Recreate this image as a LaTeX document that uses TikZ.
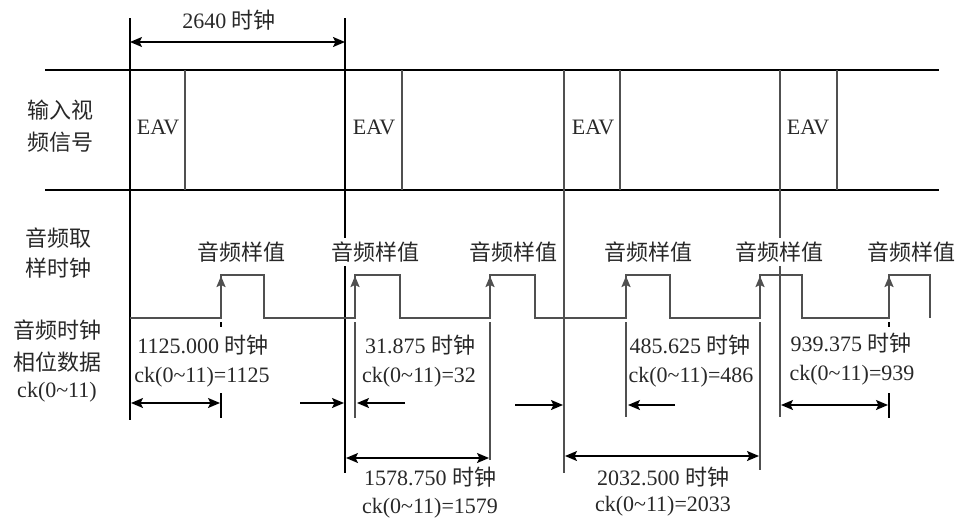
\documentclass[tikz,border=0pt]{standalone}
\usepackage{fontspec}
\setmainfont{Liberation Serif}
\newfontfamily\latinfont{Liberation Serif}
\newfontfamily\cjk{Noto Sans CJK SC}
\newcommand{\zh}[1]{{\cjk #1}}
\usetikzlibrary{arrows.meta}
\definecolor{wavecol}{RGB}{80,80,80}
\definecolor{txt}{RGB}{40,40,40}
\begin{document}
\begin{tikzpicture}[x=1pt,y=-1pt,
  lbl/.style={font={\latinfont\fontsize{22}{26}\selectfont}, inner sep=0pt, text=txt},
  zhlbl/.style={font={\cjk\fontsize{22}{26}\selectfont}, inner sep=0pt, text=txt},
  sample/.style={zhlbl, fill=white, inner sep=4pt},
  frame/.style={line width=1.5pt, black},
  wave/.style={line width=2pt, wavecol},
  tip/.style={line width=2pt, wavecol, -{Stealth[length=11pt,width=9pt,inset=2pt]}},
  dimboth/.style={line width=1.6pt, {Stealth[length=12pt,width=10pt,inset=2.5pt]}-{Stealth[length=12pt,width=10pt,inset=2.5pt]}},
  dimto/.style={line width=1.6pt, -{Stealth[length=12pt,width=10pt,inset=2.5pt]}}
]
\useasboundingbox (0,0) rectangle (957,522);

% ---- coordinates of the frame
\coordinate (hlt) at (45,70);  \coordinate (hrt) at (939,70);
\coordinate (hlb) at (45,190); \coordinate (hrb) at (939,190);
\coordinate (v1t) at (130,18); \coordinate (v1b) at (130,420);
\coordinate (v2t) at (345,18); \coordinate (v2b) at (345,473);
\coordinate (v3t) at (564,70); \coordinate (v3b) at (564,473);
\coordinate (v4t) at (780,70); \coordinate (v4b) at (780,417);

\draw[frame] (hlt) -- (hrt);
\draw[frame] (hlb) -- (hrb);
\draw[frame] (v1t) -- (v1b);
\draw[frame] (v2t) -- (v2b);
\draw[wave] (v3t) -- (v3b);
\draw[wave] (v4t) -- (v4b);

% EAV right edges
\foreach \n/\x in {1/185,2/402,3/620,4/837}{
  \coordinate (e\n t) at (\x,70);
  \coordinate (e\n b) at (\x,190);
  \draw[wave] (e\n t) -- (e\n b);
}

% EAV labels
\node[lbl] (eav1) at (158,127) {EAV};
\node[lbl] (eav2) at (374,127) {EAV};
\node[lbl] (eav3) at (593,127) {EAV};
\node[lbl] (eav4) at (808,127) {EAV};

% top dimension
\coordinate (t1) at (130,42); \coordinate (t2) at (345,42);
\draw[dimboth] (t1) -- (t2);
\node[lbl] (n2640) at (229,20) {2640 \zh{时钟}};

% left labels
\node[zhlbl] (la1) at (60,110) {输入视};
\node[zhlbl] (la2) at (60,142) {频信号};
\node[zhlbl] (lb1) at (58,238) {音频取};
\node[zhlbl] (lb2) at (58,268) {样时钟};
\node[zhlbl] (lc1) at (57,330) {音频时钟};
\node[zhlbl] (lc2) at (57,362) {相位数据};
\node[lbl]   (lc3) at (57,392) {ck(0\textasciitilde 11)};

% sample clock waveform
\draw[wave,line join=miter] (130,318) -- (221,318) -- (221,275) -- (264,275) -- (264,318)
  -- (355,318) -- (355,275) -- (400,275) -- (400,318)
  -- (490,318) -- (490,275) -- (535,275) -- (535,318)
  -- (626,318) -- (626,275) -- (670,275) -- (670,318)
  -- (760,318) -- (760,275) -- (802,275) -- (802,318)
  -- (889,318) -- (889,275) -- (930,275) -- (930,318);

% rising-edge arrowheads
\foreach \n/\x in {1/221,2/355,3/490,4/626,5/760,6/889}{
  \coordinate (r\n a) at (\x,300);
  \coordinate (r\n b) at (\x,276);
  \draw[tip] (r\n a) -- (r\n b);
}
% drop lines below the rising edges
\foreach \n/\x/\yb in {2/355/418,3/490/460,4/626/417,5/760/470}{
  \coordinate (d\n t) at (\x,322);
  \coordinate (d\n b) at (\x,\yb);
  \draw[wave] (d\n t) -- (d\n b);
}
\foreach \n/\x in {1/221,6/889}{
  \coordinate (k\n a) at (\x,322);
  \coordinate (k\n b) at (\x,327);
  \coordinate (k\n c) at (\x,393);
  \coordinate (k\n d) at (\x,418);
  \draw[line width=1.5pt] (k\n a) -- (k\n b);
  \draw[line width=1.5pt] (k\n c) -- (k\n d);
}

% sample labels
\node[sample] (s1) at (241,252) {音频样值};
\node[sample] (s2) at (375,252) {音频样值};
\node[sample] (s3) at (513,252) {音频样值};
\node[sample] (s4) at (648,252) {音频样值};
\node[sample] (s5) at (779,252) {音频样值};
\node[sample] (s6) at (911,252) {音频样值};

% phase labels
\node[lbl] (p1a) at (203,345) {1125.000 \zh{时钟}};
\node[lbl] (p1b) at (202,377) {ck(0\textasciitilde 11)=1125};
\node[lbl] (p2a) at (420,345) {31.875 \zh{时钟}};
\node[lbl] (p2b) at (419,377) {ck(0\textasciitilde 11)=32};
\node[lbl] (p4a) at (690,345) {485.625 \zh{时钟}};
\node[lbl] (p4b) at (691,377) {ck(0\textasciitilde 11)=486};
\node[lbl] (p6a) at (851,343) {939.375 \zh{时钟}};
\node[lbl] (p6b) at (852,375) {ck(0\textasciitilde 11)=939};
\node[lbl] (p3a) at (430,477) {1578.750 \zh{时钟}};
\node[lbl] (p3b) at (430,508) {ck(0\textasciitilde 11)=1579};
\node[lbl] (p5a) at (663,477) {2032.500 \zh{时钟}};
\node[lbl] (p5b) at (663,506) {ck(0\textasciitilde 11)=2033};

% dimension arrows
\coordinate (a1s) at (131,403); \coordinate (a1e) at (220,403);
\draw[dimboth] (a1s) -- (a1e);
\coordinate (a2s) at (300,403); \coordinate (a2e) at (344,403);
\draw[dimto] (a2s) -- (a2e);
\coordinate (a3s) at (405,403); \coordinate (a3e) at (357,403);
\draw[dimto] (a3s) -- (a3e);
\coordinate (a4s) at (515,405); \coordinate (a4e) at (563,405);
\draw[dimto] (a4s) -- (a4e);
\coordinate (a5s) at (675,405); \coordinate (a5e) at (628,405);
\draw[dimto] (a5s) -- (a5e);
\coordinate (a6s) at (781,405); \coordinate (a6e) at (888,405);
\draw[dimboth] (a6s) -- (a6e);
\coordinate (a7s) at (346,458); \coordinate (a7e) at (489,458);
\draw[dimboth] (a7s) -- (a7e);
\coordinate (a8s) at (565,456); \coordinate (a8e) at (759,456);
\draw[dimboth] (a8s) -- (a8e);
\end{tikzpicture}
\end{document}
